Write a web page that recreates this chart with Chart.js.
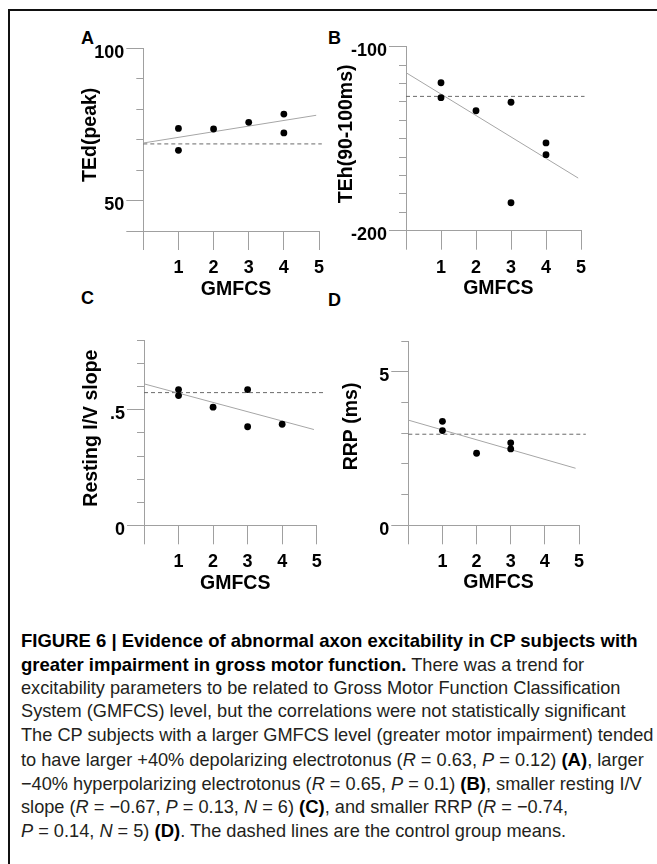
<!DOCTYPE html>
<html><head><meta charset="utf-8">
<script src="https://cdn.jsdelivr.net/npm/chart.js@4.4.0/dist/chart.umd.min.js"></script>
<style>
html,body{margin:0;padding:0;background:#fff;}
body{width:657px;height:864px;position:relative;overflow:hidden;font-family:"Liberation Sans",Arial,sans-serif;}
.frame{position:absolute;left:8px;top:9px;right:-5px;bottom:-5px;border-left:2px solid #111;border-top:2px solid #111;}
canvas{position:absolute;}
.lab{position:absolute;font:bold 18px/18px "Liberation Sans",Arial,sans-serif;color:#000;}
.cap{position:absolute;left:21px;white-space:nowrap;font-size:18.2px;line-height:23.75px;color:#231f20;}
.cap b{font-weight:bold;color:#000;font-size:18.5px;}
</style></head><body>
<div class="frame"></div>
<div class="lab" style="left:81px;top:28.5px">A</div>
<div class="lab" style="left:328px;top:29px">B</div>
<div class="lab" style="left:81px;top:289px">C</div>
<div class="lab" style="left:328px;top:291px">D</div>
<canvas id="cA"></canvas>
<canvas id="cB"></canvas>
<canvas id="cC"></canvas>
<canvas id="cD"></canvas>
<div id="caption"></div>
<script>
// ---- shared x axis (GMFCS level) ----
const gmfcsTicks = [0, 1, 2, 3, 4, 5];
const gmfcsLabels = ['', '1', '2', '3', '4', '5'];

// ---- Panel A: TEd(peak) ----
const tedX = [1, 1, 2, 3, 4, 4];
const tedY = [73.7, 66.5, 73.5, 75.7, 78.4, 72.2];
const tedFitX = [0, 4.92];
const tedFitY = [68.9, 78.0];
const tedCtrlX = [0, 5.08];
const tedCtrlY = [68.6, 68.6];
const tedTicks = [40, 50, 60, 70, 80, 90, 100];
const tedTickLabels = ['', '50', '', '', '', '', '100'];

// ---- Panel B: TEh(90-100ms) ----
const tehX = [1, 1, 2, 3, 3, 4, 4];
const tehY = [-119.6, -127.7, -134.8, -130.2, -184.8, -152.3, -158.7];
const tehFitX = [0, 4.92];
const tehFitY = [-114.1, -171.4];
const tehCtrlX = [0, 5.1];
const tehCtrlY = [-127, -127];
const tehTicks = [-200, -190, -180, -170, -160, -150, -140, -130, -120, -110, -100];
const tehTickLabels = ['-200', '', '', '', '', '', '', '', '', '', '-100'];

// ---- Panel C: Resting I/V slope ----
const ivX = [1, 1, 2, 3, 3, 4];
const ivY = [0.588, 0.562, 0.512, 0.588, 0.427, 0.438];
const ivFitX = [0, 4.92];
const ivFitY = [0.613, 0.415];
const ivCtrlX = [0, 5.2];
const ivCtrlY = [0.575, 0.575];
const ivTicks = [0, 0.1, 0.2, 0.3, 0.4, 0.5, 0.6, 0.7, 0.8];
const ivTickLabels = ['0', '', '', '', '', '.5', '', '', ''];

// ---- Panel D: RRP (ms) ----
const rrpX = [1, 1, 2, 3, 3];
const rrpY = [3.39, 3.09, 2.35, 2.69, 2.49];
const rrpFitX = [0, 4.9];
const rrpFitY = [3.43, 1.86];
const rrpCtrlX = [0, 5.2];
const rrpCtrlY = [2.97, 2.97];
const rrpTicks = [0, 1, 2, 3, 4, 5, 6];
const rrpTickLabels = ['0', '', '', '', '', '5', ''];

const AXIS = '#a0a0a0';
const pts = (xs, ys) => xs.map((x, i) => ({x: x, y: ys[i]}));

function panel(id, box, area, d) {
  const cv = document.getElementById(id);
  cv.style.left = box.left + 'px';
  cv.style.top = box.top + 'px';
  cv.width = box.w; cv.height = box.h;
  const yW = area.L - box.left;
  const xH = box.top + box.h - area.B;
  const yMajor = (i) => d.yLabels[i] !== '' || i === 0;
  new Chart(cv, {
    type: 'scatter',
    data: { datasets: [
      { data: pts(d.xs, d.ys), pointRadius: 3.4, pointHoverRadius: 3.4,
        pointBackgroundColor: '#000', pointBorderWidth: 0, showLine: false },
      { data: pts(d.fitX, d.fitY), showLine: true, borderColor: '#a6a6a6', borderWidth: 1,
        pointRadius: 0, clip: false },
      { data: pts(d.ctrlX, d.ctrlY), showLine: true, borderColor: '#6a6a6a', borderWidth: 1,
        borderDash: [4, 3], pointRadius: 0, clip: false }
    ]},
    options: {
      responsive: false, animation: false, events: [],
      layout: { padding: { left: 0, top: area.T - box.top, right: box.left + box.w - area.R, bottom: 0 } },
      plugins: { legend: { display: false }, tooltip: { enabled: false } },
      scales: {
        x: {
          type: 'linear', min: gmfcsTicks[0], max: gmfcsTicks[gmfcsTicks.length - 1],
          afterFit: (s) => { s.height = xH; },
          afterBuildTicks: (s) => { s.ticks = gmfcsTicks.map(v => ({value: v})); },
          ticks: { callback: (v, i) => gmfcsLabels[i], autoSkip: false, maxRotation: 0,
                   font: { size: 18, weight: 'bold' }, color: '#000', padding: d.xPad },
          grid: { drawOnChartArea: false, drawTicks: true, tickLength: 19, color: AXIS },
          border: { display: true, color: AXIS },
          title: { display: true, text: '\u2002GMFCS', color: '#000',
                   font: { size: 19.5, weight: 'bold' }, padding: { top: 0, bottom: d.xTitlePad } }
        },
        y: {
          type: 'linear', min: d.yTicks[0], max: d.yTicks[d.yTicks.length - 1],
          afterFit: (s) => { s.width = yW; },
          afterBuildTicks: (s) => { s.ticks = d.yTicks.map(v => ({value: v})); },
          ticks: { callback: (v, i) => d.yLabels[i], autoSkip: false,
                   font: { size: 18, weight: 'bold' }, color: '#000', padding: 2, labelOffset: 4.5 },
          grid: { drawOnChartArea: false, drawTicks: true, tickLength: 17, color: AXIS,
                  tickBorderDash: (ctx) => yMajor(ctx.index) ? [] : [0, 10, 7, 60] },
          border: { display: true, color: AXIS },
          title: { display: true, text: d.yTitle, color: '#000',
                   font: { size: 19.5, weight: 'bold' }, padding: { top: d.yTitlePad, bottom: 0 } }
        }
      }
    }
  });
}

panel('cA', {left: 60, top: 20, w: 280, h: 290}, {L: 143.3, R: 319, T: 48.3, B: 231},
  {xs: tedX, ys: tedY, fitX: tedFitX, fitY: tedFitY, ctrlX: tedCtrlX, ctrlY: tedCtrlY,
   yTicks: tedTicks, yLabels: tedTickLabels, yTitle: '\u2002TEd(peak)', yTitlePad: 19, xPad: 7.2, xTitlePad: 8.8});
panel('cB', {left: 320, top: 20, w: 280, h: 290}, {L: 406, R: 581, T: 46.7, B: 230.7},
  {xs: tehX, ys: tehY, fitX: tehFitX, fitY: tehFitY, ctrlX: tehCtrlX, ctrlY: tehCtrlY,
   yTicks: tehTicks, yLabels: tehTickLabels, yTitle: '\u2002TEh(90-100ms)', yTitlePad: 15, xPad: 7.8, xTitlePad: 10});
panel('cC', {left: 60, top: 310, w: 280, h: 300}, {L: 144, R: 316.7, T: 340.7, B: 525.3},
  {xs: ivX, ys: ivY, fitX: ivFitX, fitY: ivFitY, ctrlX: ivCtrlX, ctrlY: ivCtrlY,
   yTicks: ivTicks, yLabels: ivTickLabels, yTitle: '\u2002Resting I/V slope', yTitlePad: 20, xPad: 6.6, xTitlePad: 15});
panel('cD', {left: 320, top: 310, w: 280, h: 300}, {L: 408.3, R: 579, T: 341.3, B: 525.3},
  {xs: rrpX, ys: rrpY, fitX: rrpFitX, fitY: rrpFitY, ctrlX: rrpCtrlX, ctrlY: rrpCtrlY,
   yTicks: rrpTicks, yLabels: rrpTickLabels, yTitle: '\u2002\u2009RRP (ms)', yTitlePad: 20, xPad: 6.6, xTitlePad: 15.6});

// ---- caption ----
const captionLines = [
  '<b>FIGURE 6 | Evidence of abnormal axon excitability in CP subjects with</b>',
  '<b>greater impairment in gross motor function.</b> There was a trend for',
  'excitability parameters to be related to Gross Motor Function Classification',
  'System (GMFCS) level, but the correlations were not statistically significant',
  'The CP subjects with a larger GMFCS level (greater motor impairment) tended',
  'to have larger +40% depolarizing electrotonus (<i>R</i> = 0.63, <i>P</i> = 0.12) <b>(A)</b>, larger',
  '\u221240% hyperpolarizing electrotonus (<i>R</i> = 0.65, <i>P</i> = 0.1) <b>(B)</b>, smaller resting I/V',
  'slope (<i>R</i> = \u22120.67, <i>P</i> = 0.13, <i>N</i> = 6) <b>(C)</b>, and smaller RRP (<i>R</i> = \u22120.74,',
  '<i>P</i> = 0.14, <i>N</i> = 5) <b>(D)</b>. The dashed lines are the control group means.'
];
const cap = document.getElementById('caption');
captionLines.forEach((html, i) => {
  const el = document.createElement('div');
  el.className = 'cap';
  el.style.top = (629 + i * 23.75) + 'px';
  el.innerHTML = html;
  cap.appendChild(el);
});
</script>
</body></html>
